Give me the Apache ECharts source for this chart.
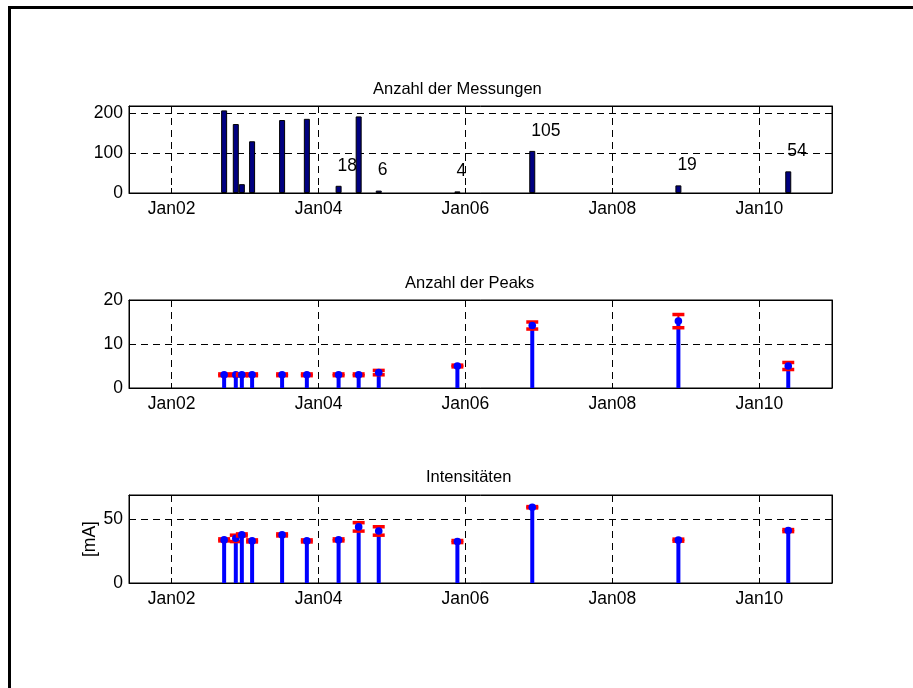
<!DOCTYPE html>
<html>
<head>
<meta charset="utf-8">
<script src="https://cdn.jsdelivr.net/npm/echarts@6/dist/echarts.min.js"></script>
<style>
  html, body { margin: 0; padding: 0; background: #fff; }
  #chart { width: 913px; height: 688px; }
</style>
</head>
<body>
<div id="chart"></div>
<script>
// Measurement campaigns (dates) and their statistics
const dates = [
  '2002-09-19', '2002-11-16', '2002-12-16', '2003-02-05', '2003-07-04',
  '2003-11-04', '2004-04-10', '2004-07-19', '2004-10-27', '2005-11-22',
  '2006-11-29', '2008-11-25', '2010-05-25'
];
// Number of measurements per campaign
const measurementCounts = [206, 172, 22, 129, 182, 185, 18, 191, 6, 4, 105, 19, 54];
// Campaigns whose count is written above the bar
const annotatedCounts = [false, false, false, false, false, false, true, false, true, true, true, true, true];
// Number of peaks: mean and spread
const peakMean = [3, 3, 3, 3, 3, 3, 3, 3, 3.5, 5, 14.2, 15.2, 5];
const peakErr  = [0.2, 0.2, 0.2, 0.2, 0.2, 0.2, 0.2, 0.2, 0.5, 0.2, 0.8, 1.5, 0.8];
// Intensities in mA: mean and spread
const intensityMean = [33.8, 35, 37.7, 33, 37.7, 33, 33.8, 44, 40.8, 32.5, 59.4, 33.6, 41.1];
const intensityErr  = [0.8, 2.5, 0.8, 0.8, 0.8, 0.8, 0.8, 3.3, 3.3, 0.8, 0.5, 0.8, 0.8];
// Year ticks on the time axis
const yearTicks = [2002, 2004, 2006, 2008, 2010];
const titles = ['Anzahl der Messungen', 'Anzahl der Peaks', 'Intensitäten'];
const intensityUnit = '[mA]';

// Convert 'YYYY-MM-DD' to a fractional year
function decYear(s) {
  const [y, m, d] = s.split('-').map(Number);
  const start = Date.UTC(y, 0, 1), end = Date.UTC(y + 1, 0, 1);
  return y + (Date.UTC(y, m - 1, d) - start) / (end - start);
}
const xs = dates.map(decYear);

const FONT = 'Liberation Sans';
const TICK_FS = 17.5;
const X_MIN = 2001.42, X_MAX = 2010.99;
const grids = [
  { left: 129, top: 106, width: 703, height: 87 },
  { left: 129, top: 300, width: 703, height: 88 },
  { left: 129, top: 495, width: 703, height: 88 }
];
const yRanges = [
  { max: 217, ticks: [0, 100, 200] },
  { max: 20, ticks: [0, 10, 20] },
  { max: 69, ticks: [0, 50] }
];

const dashed = { show: true, lineStyle: { color: '#000', width: 1, type: [7, 5] } };
const xAxes = [], yAxes = [];
grids.forEach((g, i) => {
  xAxes.push({
    type: 'value', gridIndex: i, min: X_MIN, max: X_MAX,
    axisLine: { show: true, onZero: false, lineStyle: { color: '#000', width: 1 } },
    axisTick: { show: true, inside: true, length: 5, customValues: yearTicks, lineStyle: { color: '#000' } },
    axisLabel: {
      customValues: yearTicks, color: '#000', fontFamily: FONT, fontSize: TICK_FS, margin: 7,
      formatter: v => 'Jan' + String(Math.round(v) % 100).padStart(2, '0')
    },
    splitLine: dashed
  });
  xAxes.push({
    type: 'value', gridIndex: i, min: X_MIN, max: X_MAX, position: 'top',
    axisLine: { show: true, onZero: false, lineStyle: { color: '#000', width: 1 } },
    axisTick: { show: true, inside: true, length: 5, customValues: yearTicks, lineStyle: { color: '#000' } },
    axisLabel: { show: false }, splitLine: { show: false }
  });
  const r = yRanges[i];
  yAxes.push({
    type: 'value', gridIndex: i, min: 0, max: r.max,
    axisLine: { show: true, lineStyle: { color: '#000', width: 1 } },
    axisTick: { show: true, inside: true, length: 5, customValues: r.ticks, lineStyle: { color: '#000' } },
    axisLabel: { customValues: r.ticks, color: '#000', fontFamily: FONT, fontSize: TICK_FS, margin: 6 },
    splitLine: dashed
  });
  yAxes.push({
    type: 'value', gridIndex: i, min: 0, max: r.max, position: 'right',
    axisLine: { show: true, lineStyle: { color: '#000', width: 1 } },
    axisTick: { show: true, inside: true, length: 5, customValues: r.ticks, lineStyle: { color: '#000' } },
    axisLabel: { show: false }, splitLine: { show: false }
  });
});

// Stem with a dot at the mean and red error caps
function stemRenderer(means, errs) {
  return function (params, api) {
    const i = params.dataIndex;
    const x = api.value(0), m = api.value(1), e = errs[i];
    const base = api.coord([x, 0]);
    const top = api.coord([x, m]);
    const hi = api.coord([x, m + e]);
    const lo = api.coord([x, m - e]);
    const cw = 6;
    return {
      type: 'group',
      children: [
        { type: 'line', shape: { x1: hi[0], y1: hi[1], x2: lo[0], y2: lo[1] }, style: { stroke: '#ff0000', lineWidth: 2 } },
        { type: 'line', shape: { x1: base[0], y1: base[1], x2: top[0], y2: top[1] }, style: { stroke: '#0000ff', lineWidth: 4 } },
        { type: 'line', shape: { x1: hi[0] - cw, y1: hi[1], x2: hi[0] + cw, y2: hi[1] }, style: { stroke: '#ff0000', lineWidth: 3.5 } },
        { type: 'line', shape: { x1: lo[0] - cw, y1: lo[1], x2: lo[0] + cw, y2: lo[1] }, style: { stroke: '#ff0000', lineWidth: 3.5 } },
        { type: 'circle', shape: { cx: top[0], cy: top[1], r: 3.8 }, style: { fill: '#0000ff' } }
      ]
    };
  };
}

const option = {
  backgroundColor: '#fff',
  animation: false,
  grid: grids.map(g => Object.assign({ show: true, borderColor: '#000', borderWidth: 1, backgroundColor: '#fff' }, g)),
  title: [
    { text: titles[0], left: 373, top: 81 },
    { text: titles[1], left: 405, top: 275 },
    { text: titles[2], left: 426, top: 469 }
  ].map(t => Object.assign(t, { padding: 0, textStyle: { color: '#000', fontFamily: FONT, fontSize: 16.5, fontWeight: 'normal' } })),
  xAxis: xAxes,
  yAxis: yAxes,
  graphic: [
    { type: 'line', shape: { x1: 9.5, y1: 6, x2: 9.5, y2: 688 }, style: { stroke: '#000', lineWidth: 3 } },
    { type: 'line', shape: { x1: 8, y1: 7.5, x2: 913, y2: 7.5 }, style: { stroke: '#000', lineWidth: 3 } },
    {
      type: 'text', x: 90, y: 539, rotation: Math.PI / 2,
      style: { text: intensityUnit, fill: '#000', font: TICK_FS + 'px "' + FONT + '"', align: 'center', verticalAlign: 'middle' }
    }
  ],
  series: [
    {
      type: 'bar', xAxisIndex: 0, yAxisIndex: 0, barWidth: 6,
      data: xs.map((x, i) => ({
        value: [x, measurementCounts[i]],
        label: {
          show: annotatedCounts[i], position: 'top', formatter: String(measurementCounts[i]),
          align: 'left', offset: [-1, -6], color: '#000', fontFamily: FONT, fontSize: TICK_FS
        }
      })),
      itemStyle: { color: '#000080', borderColor: '#000', borderWidth: 1 }
    },
    {
      type: 'custom', xAxisIndex: 2, yAxisIndex: 2,
      data: xs.map((x, i) => [x, peakMean[i]]),
      renderItem: stemRenderer(peakMean, peakErr)
    },
    {
      type: 'custom', xAxisIndex: 4, yAxisIndex: 4,
      data: xs.map((x, i) => [x, intensityMean[i]]),
      renderItem: stemRenderer(intensityMean, intensityErr)
    }
  ]
};

const chart = echarts.init(document.getElementById('chart'), null, { renderer: 'canvas' });
chart.setOption(option);
</script>
</body>
</html>
